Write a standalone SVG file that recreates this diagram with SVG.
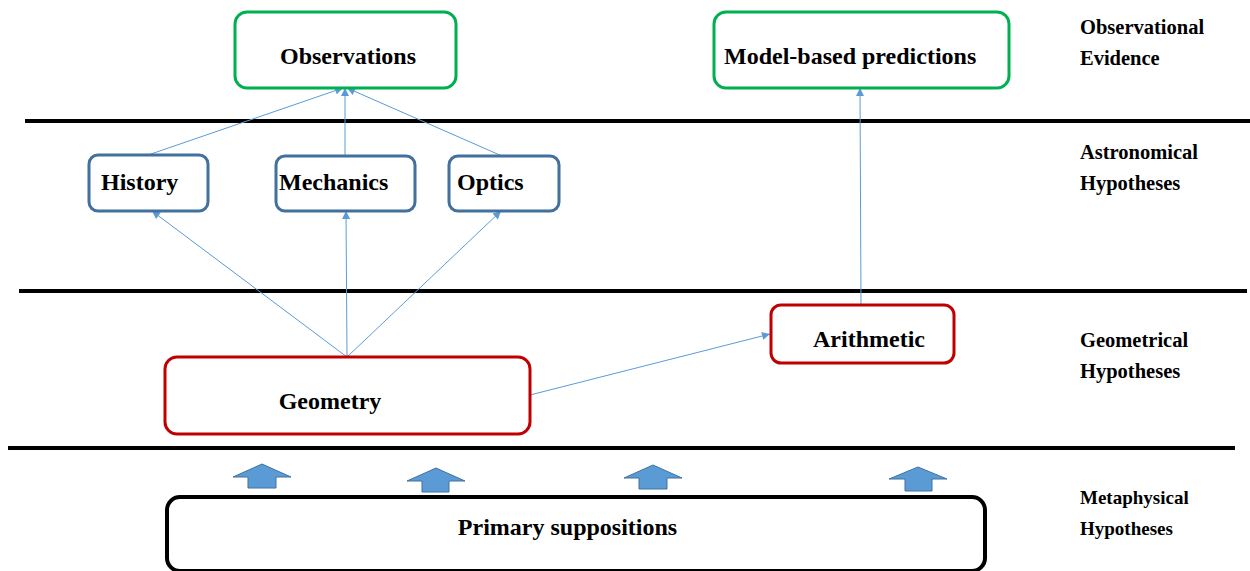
<svg xmlns="http://www.w3.org/2000/svg" width="1250" height="571" viewBox="0 0 1250 571">
<style>
.lbl{font-family:"Liberation Serif","Times New Roman",serif;font-weight:bold;font-size:24px;fill:#000}
.side{font-family:"Liberation Serif","Times New Roman",serif;font-weight:bold;font-size:20.5px;fill:#000}
.green{fill:#fff;stroke:#00B050;stroke-width:3}
.blue{fill:#fff;stroke:#41719C;stroke-width:3}
.red{fill:#fff;stroke:#C00000;stroke-width:3}
.black{fill:#fff;stroke:#000;stroke-width:4}
.sep{stroke:#000;stroke-width:4}
.conn{stroke:#5B9BD5;stroke-width:1;fill:none;marker-end:url(#ah)}
.blk{fill:#5B9BD5;stroke:#41719C;stroke-width:1}
</style>
<defs>
<marker id="ah" viewBox="0 0 10 10" refX="10" refY="5" markerWidth="10" markerHeight="8" markerUnits="userSpaceOnUse" orient="auto">
<path d="M0,0 L10,5 L0,10 z" fill="#5B9BD5"/>
</marker>
</defs>
<rect width="1250" height="571" fill="#fff"/>
<g id="separators">
<line class="sep" x1="25" y1="121" x2="1250" y2="121"/>
<line class="sep" x1="19" y1="291" x2="1247" y2="291"/>
<line class="sep" x1="8" y1="448" x2="1235" y2="448"/>
</g>
<g id="side-labels">
<text class="side" x="1080" y="34">Observational</text>
<text class="side" x="1080" y="65">Evidence</text>
<text class="side" x="1080" y="159">Astronomical</text>
<text class="side" x="1080" y="190">Hypotheses</text>
<text class="side" x="1080" y="347">Geometrical</text>
<text class="side" x="1080" y="378">Hypotheses</text>
<text class="side" x="1080" y="504" style="font-size:19px">Metaphysical</text>
<text class="side" x="1080" y="535" style="font-size:19px">Hypotheses</text>
</g>
<g id="connectors">
<line class="conn" x1="148" y1="155" x2="343" y2="88"/>
<line class="conn" x1="345" y1="156" x2="345" y2="88"/>
<line class="conn" x1="502" y1="156" x2="347" y2="88"/>
<line class="conn" x1="347" y1="357" x2="152" y2="211"/>
<line class="conn" x1="347" y1="357" x2="346" y2="211"/>
<line class="conn" x1="347" y1="357" x2="501" y2="211"/>
<line class="conn" x1="530" y1="395" x2="770" y2="334"/>
<line class="conn" x1="861" y1="305" x2="860" y2="88"/>
</g>
<g id="observations">
<rect class="green" x="235" y="12" width="221" height="76" rx="12"/>
<text class="lbl" x="348" y="64" text-anchor="middle">Observations</text>
</g>
<g id="model-based-predictions">
<rect class="green" x="714" y="12" width="295" height="76" rx="12"/>
<text class="lbl" x="724" y="64">Model-based predictions</text>
</g>
<g id="history">
<rect class="blue" x="89" y="155" width="119" height="56" rx="9"/>
<text class="lbl" x="101" y="190">History</text>
</g>
<g id="mechanics">
<rect class="blue" x="276" y="156" width="139" height="55" rx="9"/>
<text class="lbl" x="279" y="190">Mechanics</text>
</g>
<g id="optics">
<rect class="blue" x="449" y="156" width="110" height="55" rx="9"/>
<text class="lbl" x="457" y="190">Optics</text>
</g>
<g id="arithmetic">
<rect class="red" x="771" y="305" width="183" height="58" rx="10"/>
<text class="lbl" x="869" y="347" text-anchor="middle">Arithmetic</text>
</g>
<g id="geometry">
<rect class="red" x="165" y="357" width="365" height="77" rx="12"/>
<text class="lbl" x="330" y="409" text-anchor="middle">Geometry</text>
</g>
<g id="primary-suppositions">
<rect class="black" x="167" y="497" width="818" height="74" rx="13"/>
<text class="lbl" x="567.5" y="535" text-anchor="middle">Primary suppositions</text>
</g>
<g id="block-arrows">
<polygon class="blk" points="233,477 262,464 291,477 276,477 276,488 248,488 248,477"/>
<polygon class="blk" points="407,481 436,468 465,481 449,481 449,492 422,492 422,481"/>
<polygon class="blk" points="624,478 653,465 682,478 667,478 667,489 639,489 639,478"/>
<polygon class="blk" points="889,479 918,467 947,479 932,479 932,491 905,491 905,479"/>
</g>
</svg>
